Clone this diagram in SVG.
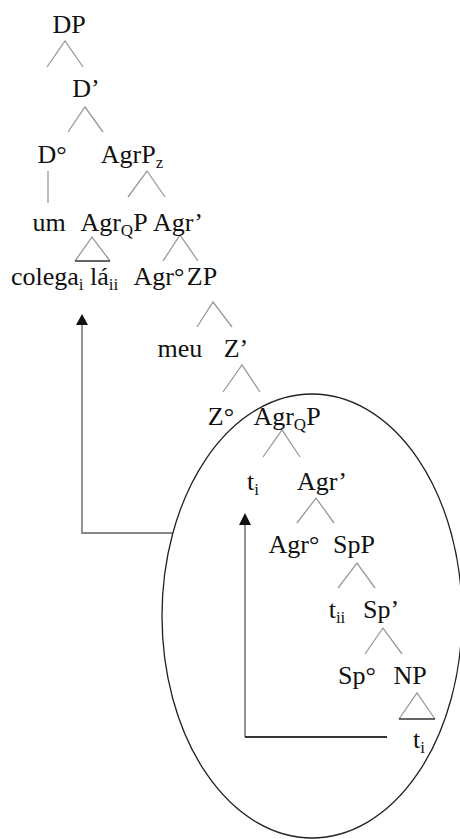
<svg xmlns="http://www.w3.org/2000/svg" width="460" height="839" viewBox="0 0 460 839">
<defs>
<marker id="ah" viewBox="0 0 12 12" refX="6" refY="1" markerWidth="12" markerHeight="12" markerUnits="userSpaceOnUse" orient="auto"><path d="M0 0L6 0L12 0Z" fill="none"/></marker>
</defs>
<rect width="460" height="839" fill="#fff"/>
<g id="connectors" fill="none" stroke="#9a9a9a" stroke-width="1.3">
<path d="M47 67L65 41L83 67"/>
<path d="M68 132L85 107L103 132"/>
<path d="M48 171V203"/>
<path d="M128 197L147 171L165 197"/>
<path d="M75 261L92 237L110 261"/>
<path d="M75 261H110" stroke="#333" stroke-width="1.5"/>
<path d="M163 261L180 235L198 261"/>
<path d="M197 327L213 302L232 327"/>
<path d="M223 392L242 365L260 392"/>
<path d="M263 457L282 430L300 457"/>
<path d="M297 523L316 498L334 523"/>
<path d="M338 588L357 563L375 588"/>
<path d="M365 654L383 628L402 654"/>
<path d="M399 719L417 693L435 719"/>
<path d="M399 719H435" stroke="#333" stroke-width="1.5"/>
<path d="M173 533H82V323" stroke="#888" stroke-width="1.8"/>
<polygon points="82,314 76,325 88,325" fill="#111" stroke="none"/>
<path d="M245 737V524" stroke="#888" stroke-width="1.8"/>
<path d="M245 737H387" stroke="#333" stroke-width="1.8"/>
<polygon points="245,513 239,525 251,525" fill="#111" stroke="none"/>
<ellipse cx="312" cy="616" rx="150" ry="222" stroke="#222" stroke-width="1.3"/>
</g>
<g id="n-DP"><text font-family="Liberation Serif" font-size="26" fill="#111" text-anchor="middle" x="69" y="33">DP</text></g>
<g id="n-Dbar"><text font-family="Liberation Serif" font-size="26" fill="#111" text-anchor="middle" x="86" y="97">D’</text></g>
<g id="n-D0"><text font-family="Liberation Serif" font-size="26" fill="#111" text-anchor="middle" x="52" y="163">D°</text></g>
<g id="n-AgrPz"><text font-family="Liberation Serif" font-size="26" fill="#111" text-anchor="middle" x="132" y="163">AgrP<tspan font-size="17" dy="5">z</tspan></text></g>
<g id="n-um"><text font-family="Liberation Serif" font-size="26" fill="#111" text-anchor="middle" x="49" y="231">um</text></g>
<g id="n-AgrQP1"><text font-family="Liberation Serif" font-size="26" fill="#111" text-anchor="middle" x="114" y="231">Agr<tspan font-size="17" dy="5">Q</tspan><tspan dy="-5">P</tspan></text></g>
<g id="n-Agrbar1"><text font-family="Liberation Serif" font-size="26" fill="#111" text-anchor="middle" x="178" y="231">Agr’</text></g>
<g id="n-colega"><text font-family="Liberation Serif" font-size="26" fill="#111" x="11" y="285">colega<tspan font-size="17" dy="5">i</tspan><tspan dy="-5"> lá</tspan><tspan font-size="17" dy="5">ii</tspan></text></g>
<g id="n-Agr01"><text font-family="Liberation Serif" font-size="26" fill="#111" text-anchor="middle" x="159" y="285">Agr°</text></g>
<g id="n-ZP"><text font-family="Liberation Serif" font-size="26" fill="#111" text-anchor="middle" x="202" y="285">ZP</text></g>
<g id="n-meu"><text font-family="Liberation Serif" font-size="26" fill="#111" text-anchor="middle" x="180" y="357">meu</text></g>
<g id="n-Zbar"><text font-family="Liberation Serif" font-size="26" fill="#111" text-anchor="middle" x="236" y="357">Z’</text></g>
<g id="n-Z0"><text font-family="Liberation Serif" font-size="26" fill="#111" text-anchor="middle" x="221" y="425">Z°</text></g>
<g id="n-AgrQP2"><text font-family="Liberation Serif" font-size="26" fill="#111" text-anchor="middle" x="287" y="425">Agr<tspan font-size="17" dy="5">Q</tspan><tspan dy="-5">P</tspan></text></g>
<g id="n-ti1"><text font-family="Liberation Serif" font-size="26" fill="#111" text-anchor="middle" x="253" y="490">t<tspan font-size="17" dy="5">i</tspan></text></g>
<g id="n-Agrbar2"><text font-family="Liberation Serif" font-size="26" fill="#111" text-anchor="middle" x="322" y="490">Agr’</text></g>
<g id="n-Agr02"><text font-family="Liberation Serif" font-size="26" fill="#111" text-anchor="middle" x="294" y="553">Agr°</text></g>
<g id="n-SpP"><text font-family="Liberation Serif" font-size="26" fill="#111" text-anchor="middle" x="354" y="553">SpP</text></g>
<g id="n-tii"><text font-family="Liberation Serif" font-size="26" fill="#111" text-anchor="middle" x="337" y="618">t<tspan font-size="17" dy="5">ii</tspan></text></g>
<g id="n-Spbar"><text font-family="Liberation Serif" font-size="26" fill="#111" text-anchor="middle" x="381" y="618">Sp’</text></g>
<g id="n-Sp0"><text font-family="Liberation Serif" font-size="26" fill="#111" text-anchor="middle" x="357" y="684">Sp°</text></g>
<g id="n-NP"><text font-family="Liberation Serif" font-size="26" fill="#111" text-anchor="middle" x="410" y="684">NP</text></g>
<g id="n-ti2"><text font-family="Liberation Serif" font-size="26" fill="#111" text-anchor="middle" x="419" y="748">t<tspan font-size="17" dy="5">i</tspan></text></g>
</svg>
